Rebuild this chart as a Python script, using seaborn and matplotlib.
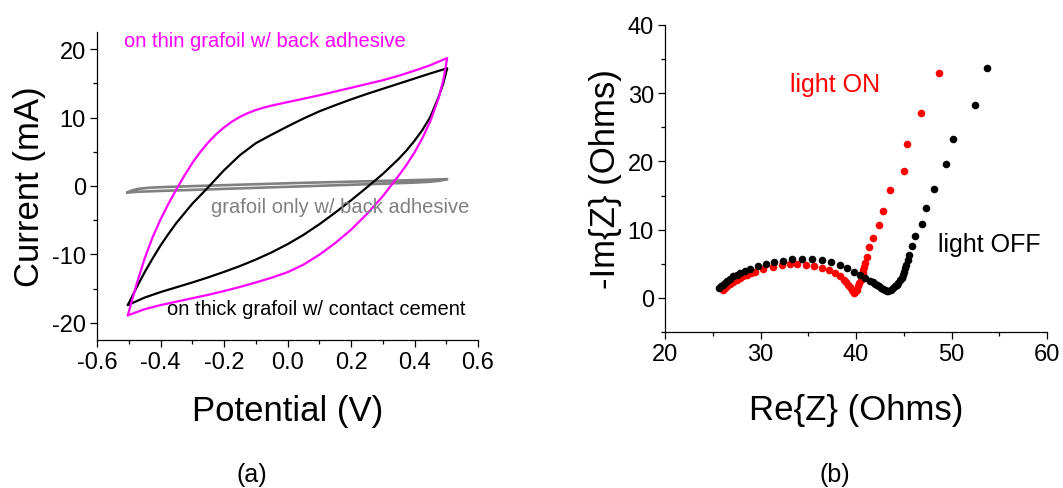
import numpy as np
import pandas as pd
import matplotlib
matplotlib.use("Agg")
import matplotlib.pyplot as plt
import seaborn as sns
from matplotlib.ticker import MultipleLocator

# ---------------- data: cyclic voltammetry (panel a) ----------------
# thin grafoil w/ back adhesive (magenta): forward then reverse sweep
mag_fwd_V = [-0.503, -0.475, -0.45, -0.425, -0.4, -0.375, -0.35, -0.325, -0.3, -0.275, -0.25,
             -0.225, -0.2, -0.175, -0.15, -0.125, -0.1, -0.075, -0.05, -0.025, 0.0, 0.05,
             0.1, 0.15, 0.2, 0.25, 0.3, 0.35, 0.4, 0.45, 0.503]
mag_fwd_I = [-18.9, -14.3, -10.6, -7.5, -4.9, -2.6, -0.5, 1.5, 3.35, 4.95, 6.35,
             7.55, 8.55, 9.4, 10.1, 10.65, 11.1, 11.45, 11.75, 12.0, 12.25, 12.75,
             13.25, 13.8, 14.35, 14.9, 15.45, 16.1, 16.85, 17.65, 18.7]
mag_rev_V = [0.503, 0.49, 0.475, 0.45, 0.425, 0.4, 0.375, 0.35, 0.3, 0.25, 0.2, 0.15, 0.1,
             0.05, 0.0, -0.05, -0.1, -0.15, -0.2, -0.25, -0.3, -0.35, -0.4, -0.45, -0.503]
mag_rev_I = [18.7, 15.3, 12.7, 9.5, 7.0, 4.9, 3.1, 1.5, -1.5, -4.1, -6.4, -8.35, -10.05,
             -11.5, -12.6, -13.4, -14.1, -14.75, -15.35, -15.9, -16.4, -16.9, -17.4, -18.0, -18.9]

# thick grafoil w/ contact cement (black)
blk_fwd_V = [-0.503, -0.475, -0.45, -0.425, -0.4, -0.375, -0.35, -0.3, -0.25, -0.2, -0.15,
             -0.1, -0.05, 0.0, 0.05, 0.1, 0.15, 0.2, 0.25, 0.3, 0.35, 0.4, 0.45, 0.503]
blk_fwd_I = [-17.4, -14.8, -12.6, -10.6, -8.7, -7.0, -5.4, -2.6, -0.2, 2.3, 4.5,
             6.25, 7.5, 8.7, 9.85, 10.9, 11.8, 12.65, 13.45, 14.2, 14.95, 15.7, 16.45, 17.2]
blk_rev_V = [0.503, 0.49, 0.475, 0.45, 0.425, 0.4, 0.375, 0.35, 0.3, 0.25, 0.2, 0.15, 0.1,
             0.05, 0.0, -0.05, -0.1, -0.15, -0.2, -0.25, -0.3, -0.35, -0.4, -0.45, -0.503]
blk_rev_I = [17.2, 14.9, 12.9, 10.1, 8.2, 6.6, 5.2, 3.95, 1.75, -0.2, -2.1, -3.9, -5.6,
             -7.15, -8.5, -9.7, -10.75, -11.7, -12.55, -13.35, -14.1, -14.8, -15.5, -16.3, -17.4]

# grafoil only w/ back adhesive (gray)
gry_fwd_V = [-0.505, -0.49, -0.47, -0.44, -0.4, -0.3, -0.2, -0.1, 0.0, 0.1, 0.2, 0.3, 0.4, 0.503]
gry_fwd_I = [-0.95, -0.65, -0.42, -0.27, -0.17, -0.02, 0.12, 0.26, 0.4, 0.52, 0.63, 0.74, 0.86, 1.0]
gry_rev_V = [0.503, 0.48, 0.45, 0.4, 0.3, 0.2, 0.1, 0.0, -0.1, -0.2, -0.3, -0.4, -0.47, -0.505]
gry_rev_I = [1.0, 0.78, 0.62, 0.5, 0.33, 0.18, 0.03, -0.12, -0.27, -0.42, -0.57, -0.72, -0.84, -0.95]

# ---------------- data: Nyquist plot (panel b) ----------------
on_re = [26.11, 26.32, 26.53, 26.85, 27.16, 27.5, 27.85, 28.2, 28.55, 29.0, 29.42, 30.3,
         31.34, 32.22, 33.09, 33.86, 34.73, 35.6, 36.44, 37.14, 37.77, 38.32, 38.78, 39.0,
         39.2, 39.4, 39.55, 39.68, 39.79, 39.92, 40.07, 40.2, 40.35, 40.48, 40.6, 40.7,
         40.77, 40.88, 40.98, 41.12, 41.33, 41.82, 42.37, 42.83, 43.56, 45.03, 45.36,
         46.79, 48.67]
on_im = [1.21, 1.45, 1.69, 2.0, 2.32, 2.62, 2.90, 3.15, 3.38, 3.62, 3.86, 4.25,
         4.59, 4.83, 4.98, 4.93, 4.83, 4.69, 4.35, 4.06, 3.62, 3.14, 2.66, 2.3,
         1.93, 1.55, 1.21, 0.95, 0.72, 0.9, 1.21, 1.7, 2.17, 2.65, 3.14, 3.6,
         4.11, 4.6, 5.07, 6.04, 7.39, 8.84, 10.63, 12.8, 15.8, 18.65, 22.6,
         27.15, 33.0]
off_re = [25.69, 25.9, 26.11, 26.32, 26.53, 26.85, 27.16, 27.5, 27.85, 28.35, 28.9, 29.77,
          30.58, 31.45, 32.32, 33.3, 34.35, 35.39, 36.44, 37.42, 38.32, 39.09, 39.79,
          40.42, 40.94, 41.47, 41.75, 41.99, 42.22, 42.44, 42.65, 42.86, 43.05, 43.21,
          43.4, 43.63, 43.85, 44.08, 44.27, 44.43, 44.6, 44.78, 44.92, 45.03, 45.15,
          45.24, 45.4, 45.59, 45.86, 46.18, 46.91, 47.3, 48.13, 49.42, 50.2, 52.41, 53.73]
off_im = [1.45, 1.7, 1.93, 2.22, 2.51, 2.83, 3.14, 3.4, 3.67, 3.97, 4.25, 4.64,
          4.98, 5.27, 5.46, 5.65, 5.75, 5.70, 5.60, 5.22, 4.83, 4.44, 3.86,
          3.38, 2.90, 2.51, 2.28, 2.08, 1.88, 1.69, 1.5, 1.33, 1.15, 1.0,
          1.0, 1.2, 1.42, 1.69, 1.95, 2.2, 2.55, 2.9, 3.35, 3.86, 4.35,
          4.83, 5.5, 6.28, 7.58, 9.03, 10.77, 13.14, 15.89, 19.6, 23.26, 28.3, 33.7]

MAGENTA = "#FF00FF"
GRAY = "#808080"
RED = "#FF0000"
BLACK = "#000000"

sns.set_theme(style="ticks")
plt.rcParams["font.family"] = ["Liberation Sans", "DejaVu Sans"]
plt.rcParams["text.color"] = "black"
plt.rcParams["axes.labelcolor"] = "black"
plt.rcParams["xtick.color"] = "black"
plt.rcParams["ytick.color"] = "black"
plt.rcParams["lines.solid_joinstyle"] = "round"

W, H = 1063, 489
fig = plt.figure(figsize=(W / 100, H / 100), dpi=100)

def px_axes(l, r, t, b):
    return [l / W, 1 - b / H, (r - l) / W, (b - t) / H]

axA = fig.add_axes(px_axes(97, 478, 33, 341))
axB = fig.add_axes(px_axes(665, 1047, 26, 333))

def loop(v1, i1, v2, i2):
    return pd.DataFrame({"V": list(v1) + list(v2), "I": list(i1) + list(i2)})

gry = loop(gry_fwd_V, gry_fwd_I, gry_rev_V, gry_rev_I)
blk = loop(blk_fwd_V, blk_fwd_I, blk_rev_V, blk_rev_I)
mag = loop(mag_fwd_V, mag_fwd_I, mag_rev_V, mag_rev_I)

sns.lineplot(data=gry, x="V", y="I", sort=False, estimator=None, color=GRAY, lw=1.9, ax=axA)
sns.lineplot(data=blk, x="V", y="I", sort=False, estimator=None, color=BLACK, lw=1.6, ax=axA)
sns.lineplot(data=mag, x="V", y="I", sort=False, estimator=None, color=MAGENTA, lw=1.6, ax=axA)

axA.set_xlim(-0.6, 0.6)
axA.set_ylim(-22.5, 22.5)
axA.set_xticks([-0.6, -0.4, -0.2, 0.0, 0.2, 0.4, 0.6])
axA.set_xticklabels(["-0.6", "-0.4", "-0.2", "0.0", "0.2", "0.4", "0.6"])
axA.set_yticks([-20, -10, 0, 10, 20])
axA.set_yticklabels(["-20", "-10", "0", "10", "20"])
axA.xaxis.set_minor_locator(MultipleLocator(0.1))
axA.yaxis.set_minor_locator(MultipleLocator(5))
axA.set_xlabel("Potential (V)", fontsize=25)
axA.set_ylabel("Current (mA)", fontsize=25)
axA.xaxis.set_label_coords(0.5, -0.175)
axA.yaxis.set_label_coords(-0.135, 0.5)

axA.text(-0.515, 20.4, "on thin grafoil w/ back adhesive", color=MAGENTA, fontsize=14.5, va="baseline")
axA.text(-0.241, -3.84, "grafoil only w/ back adhesive", color=GRAY, fontsize=14.5, va="baseline")
axA.text(-0.38, -18.7, "on thick grafoil w/ contact cement", color=BLACK, fontsize=14.5, va="baseline")

nyq_on = pd.DataFrame({"re": on_re, "im": on_im})
nyq_off = pd.DataFrame({"re": off_re, "im": off_im})
sns.scatterplot(data=nyq_on, x="re", y="im", color=RED, s=30, linewidth=0, ax=axB)
sns.scatterplot(data=nyq_off, x="re", y="im", color=BLACK, s=30, linewidth=0, ax=axB)

axB.set_xlim(20, 60)
axB.set_ylim(-5, 40)
axB.set_xticks([20, 30, 40, 50, 60])
axB.set_yticks([0, 10, 20, 30, 40])
axB.xaxis.set_minor_locator(MultipleLocator(5))
axB.yaxis.set_minor_locator(MultipleLocator(5))
axB.set_xlabel("Re{Z} (Ohms)", fontsize=25)
axB.set_ylabel("-Im{Z} (Ohms)", fontsize=25)
axB.xaxis.set_label_coords(0.5, -0.2)
axB.yaxis.set_label_coords(-0.112, 0.5)

axB.text(33.1, 30.3, "light ON", color=RED, fontsize=18, va="baseline")
axB.text(48.6, 6.8, "light OFF", color=BLACK, fontsize=18, va="baseline")

for ax in (axA, axB):
    for side in ("top", "right"):
        ax.spines[side].set_visible(False)
    for side in ("left", "bottom"):
        ax.spines[side].set_linewidth(0.9)
        ax.spines[side].set_color("black")
    ax.tick_params(which="major", direction="out", length=5, width=0.9, labelsize=17,
                   pad=3, colors="black")
    ax.tick_params(which="minor", direction="out", length=3, width=0.9, colors="black")
    ax.set_facecolor("white")

fig.text(252 / W, 1 - 475 / H, "(a)", fontsize=18, ha="center", va="center")
fig.text(835 / W, 1 - 475 / H, "(b)", fontsize=18, ha="center", va="center")

fig.savefig("out.png", dpi=100, facecolor="white")
